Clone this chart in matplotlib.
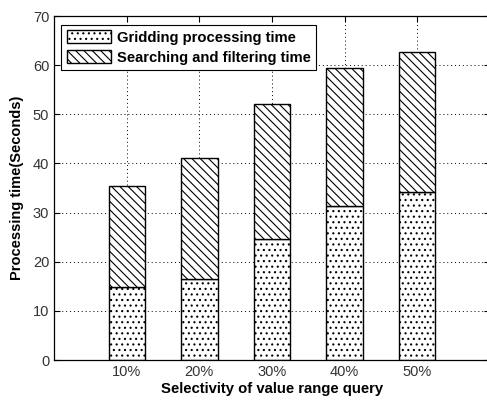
import matplotlib
matplotlib.use("Agg")
import matplotlib.pyplot as plt
import numpy as np

plt.rcParams['font.family'] = ['Liberation Sans', 'DejaVu Sans']
plt.rcParams['hatch.linewidth'] = 0.8

categories = ['10%', '20%', '30%', '40%', '50%']
gridding = [14.8, 16.4, 24.6, 31.4, 34.1]
searching = [20.7, 24.8, 27.4, 28.0, 28.6]

fig = plt.figure(figsize=(4.87, 4.01), dpi=100)
ax = fig.add_axes([54/487, 1 - 360/401, 436/487, 344/401])

x = np.arange(1, len(categories) + 1)
b1 = ax.bar(x, gridding, width=0.5, color='white', edgecolor='black', hatch='...', linewidth=1.0,
            label='Gridding processing time')
b2 = ax.bar(x, searching, width=0.5, bottom=gridding, color='white', edgecolor='black', hatch='\\\\\\\\',
            linewidth=1.0, label='Searching and filtering time')

ax.set_xlim(0, 6)
ax.set_ylim(0, 70)
ax.set_xticks(x)
ax.set_xticklabels(categories)
ax.set_yticks(np.arange(0, 71, 10))
ax.tick_params(direction='in', labelsize=10.5, length=4, colors='black', labelcolor='#333333',
               top=True, right=True)
ax.grid(True, linestyle=(0, (1, 3)), color='black', linewidth=0.7)
ax.set_axisbelow(True)
for s in ax.spines.values():
    s.set_linewidth(0.9)
ax.spines['right'].set_visible(False)

ax.set_xlabel('Selectivity of value range query', fontsize=10.7, fontweight='bold', labelpad=2)
ax.set_ylabel('Processing time(Seconds)', fontsize=10.5, fontweight='bold', labelpad=6)

leg = ax.legend(loc='upper left', bbox_to_anchor=(0.0, 0.995), frameon=True, fancybox=False,
                edgecolor='black', framealpha=1, prop={'weight': 'bold', 'size': 10.6},
                handlelength=3.0, handleheight=1.0, borderpad=0.35, labelspacing=0.35, handletextpad=0.4)
leg.get_frame().set_linewidth(0.8)

fig.savefig('out.png', dpi=100)
